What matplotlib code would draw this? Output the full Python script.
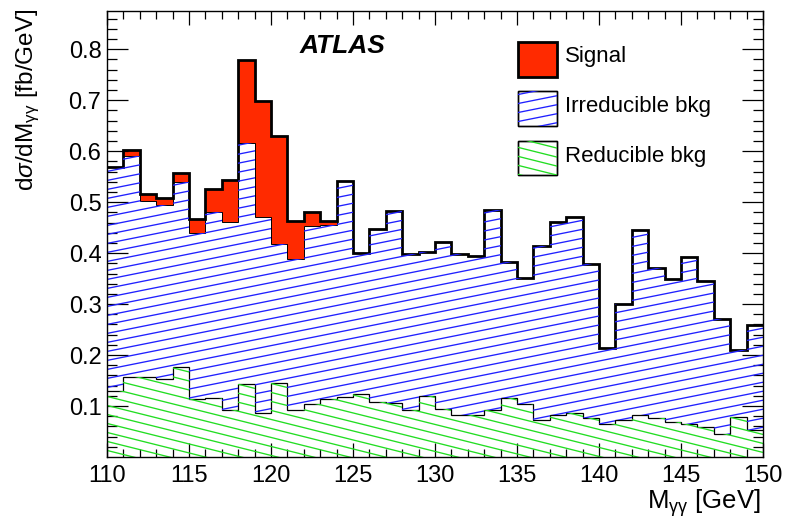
import numpy as np
import matplotlib.pyplot as plt
from matplotlib.collections import LineCollection
from matplotlib.patches import Rectangle

plt.rcParams['font.family'] = ['Liberation Sans', 'DejaVu Sans']
plt.rcParams['mathtext.fontset'] = 'custom'
plt.rcParams['mathtext.rm'] = 'Liberation Sans'
plt.rcParams['mathtext.it'] = 'Liberation Sans:italic'

# 1 GeV bins from 110 to 150
edges = np.arange(110, 151, 1)

reducible = [0.130, 0.156, 0.156, 0.154, 0.176, 0.113, 0.115, 0.093, 0.144, 0.086,
             0.146, 0.093, 0.103, 0.113, 0.118, 0.123, 0.107, 0.105, 0.092, 0.120,
             0.095, 0.082, 0.082, 0.092, 0.115, 0.103, 0.073, 0.082, 0.086, 0.076,
             0.065, 0.073, 0.082, 0.077, 0.069, 0.064, 0.059, 0.046, 0.079, 0.052]
irreducible = [0.439, 0.434, 0.346, 0.340, 0.363, 0.326, 0.365, 0.368, 0.472, 0.384,
               0.272, 0.295, 0.351, 0.342, 0.423, 0.278, 0.341, 0.377, 0.306, 0.283,
               0.326, 0.316, 0.312, 0.392, 0.268, 0.249, 0.341, 0.379, 0.385, 0.302,
               0.148, 0.227, 0.363, 0.293, 0.280, 0.328, 0.287, 0.225, 0.131, 0.207]
signal = [0.000, 0.012, 0.014, 0.014, 0.018, 0.028, 0.045, 0.082, 0.162, 0.229,
          0.211, 0.075, 0.026, 0.008, 0, 0, 0, 0, 0, 0,
          0, 0, 0, 0, 0, 0, 0, 0, 0, 0,
          0, 0, 0, 0, 0, 0, 0, 0, 0, 0]

red_top = np.array(reducible)
irr_top = red_top + np.array(irreducible)
total = irr_top + np.array(signal)

W, H = 787, 518
fig = plt.figure(figsize=(W / 100, H / 100), dpi=100)
ax = fig.add_axes([107 / W, 1 - 457 / H, 656 / W, 446 / H])
ax.set_xlim(110, 150)
ax.set_ylim(0, 0.875)

sig_col = '#ff2a00'
blue = '#2020ff'
green = '#22dd22'

p_red = ax.stairs(red_top, edges, baseline=0, fill=True, facecolor='white', edgecolor='none')
p_irr = ax.stairs(irr_top, edges, baseline=red_top, fill=True, facecolor='white', edgecolor='none')
ax.stairs(total, edges, baseline=irr_top, fill=True, facecolor=sig_col, edgecolor='none')

# hatch lines, pixel slope converted to data slope
px_x = 656 / 40.0
px_y = 446 / 0.875


def hatch(patch, slope_px, step_px, color, trans_x=px_x, trans_y=px_y, x0=110, x1=150,
          transform=None):
    k = slope_px * trans_x / trans_y
    dy = step_px / trans_y
    cs = np.arange(-2.0, 2.0, dy)
    segs = [[(x0, c), (x1, c + k * (x1 - x0))] for c in cs]
    lc = LineCollection(segs, colors=color, linewidths=0.95,
                        transform=transform if transform is not None else ax.transData)
    ax.add_collection(lc)
    lc.set_clip_path(patch)


hatch(p_irr, 0.2, 9.0, blue)
hatch(p_red, -0.25, 9.0, green)

ax.stairs(red_top, edges, baseline=None, color='black', lw=0.9)
ax.stairs(irr_top, edges, baseline=None, color='black', lw=0.7)
ax.stairs(total, edges, baseline=None, color='black', lw=2.0)

# axes styling
ax.set_xticks(np.arange(110, 151, 5))
ax.set_xticks(np.arange(110, 151, 1), minor=True)
ax.set_yticks(np.arange(0.1, 0.81, 0.1))
ax.set_yticks(np.arange(0.02, 0.875, 0.02), minor=True)
ax.set_yticklabels(['%.1f' % v for v in np.arange(0.1, 0.81, 0.1)])
ax.tick_params(which='both', direction='in', top=True, right=True, width=0.9, labelsize=17)
ax.tick_params(axis='x', which='major', length=10, pad=6)
ax.tick_params(axis='x', which='minor', length=5.5)
ax.tick_params(axis='y', which='major', length=15, pad=4)
ax.tick_params(axis='y', which='minor', length=7.5)
for s in ax.spines.values():
    s.set_linewidth(1.0)

ax.text(0.294, 0.921, 'ATLAS', transform=ax.transAxes, fontsize=19,
        fontweight='bold', fontstyle='italic', va='center', ha='left')

# legend drawn by hand
ax_w, ax_h = 656.0, 446.0
rs = Rectangle((0.627, 0.853), 0.059, 0.078, transform=ax.transAxes,
               facecolor=sig_col, edgecolor='black', lw=2.0)
ax.add_patch(rs)
ri = Rectangle((0.627, 0.743), 0.059, 0.078, transform=ax.transAxes,
               facecolor='white', edgecolor='black', lw=1.0)
ax.add_patch(ri)
rr = Rectangle((0.627, 0.632), 0.059, 0.077, transform=ax.transAxes,
               facecolor='white', edgecolor='black', lw=1.0)
ax.add_patch(rr)
hatch(ri, 0.2, 9.0, blue, trans_x=ax_w, trans_y=ax_h, x0=0.6, x1=0.7, transform=ax.transAxes)
hatch(rr, -0.25, 9.0, green, trans_x=ax_w, trans_y=ax_h, x0=0.6, x1=0.7, transform=ax.transAxes)
ax.add_patch(Rectangle((0.627, 0.743), 0.059, 0.078, transform=ax.transAxes,
                       facecolor='none', edgecolor='black', lw=1.0))
ax.add_patch(Rectangle((0.627, 0.632), 0.059, 0.077, transform=ax.transAxes,
                       facecolor='none', edgecolor='black', lw=1.0))

for y, lab in [(0.8975, 'Signal'), (0.785, 'Irreducible bkg'), (0.673, 'Reducible bkg')]:
    ax.text(0.698, y, lab, transform=ax.transAxes, fontsize=16, va='center', ha='left')

fig.text(28 / W, 1 - 9 / H, r'd$\sigma$/dM$_{\mathrm{\gamma\gamma}}$ [fb/GeV]',
         rotation=90, ha='center', va='top', fontsize=17.5)
fig.text(761 / W, (H - 509) / H, r'M$_{\mathrm{\gamma\gamma}}$ [GeV]',
         ha='right', va='baseline', fontsize=18.5)

fig.savefig('out.png', dpi=100)
